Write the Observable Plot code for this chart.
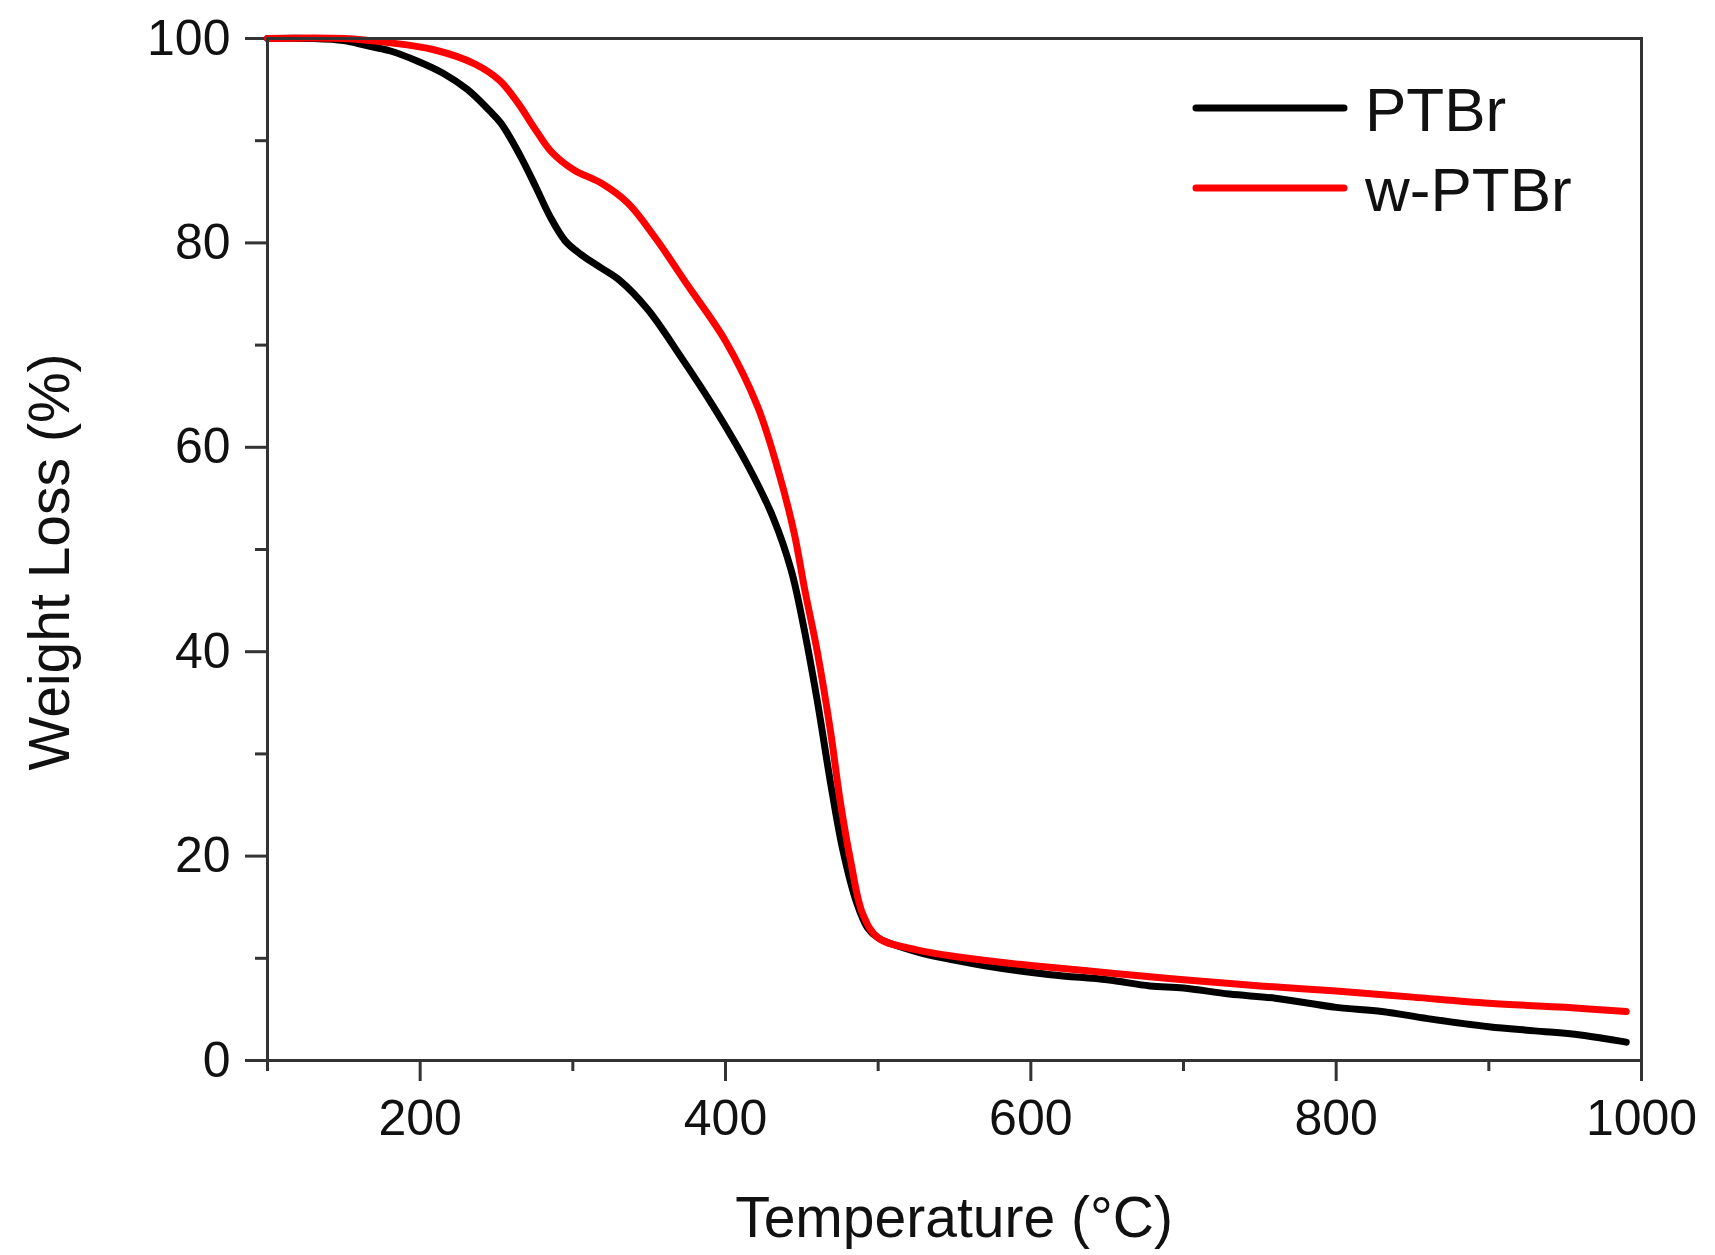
<!DOCTYPE html>
<html>
<head>
<meta charset="utf-8">
<script src="https://cdn.jsdelivr.net/npm/d3@7"></script>
<script src="https://cdn.jsdelivr.net/npm/@observablehq/plot@0.6"></script>
<style>
  html, body { margin: 0; padding: 0; background: #fff; }
  #chart svg { display: block; }
</style>
</head>
<body>
<div id="chart"></div>
<script>
// Temperature (°C) and weight (%)
const ptbrT = [100, 130, 150, 165, 180, 198, 215, 231, 245, 253, 266, 276, 285, 295, 305, 318, 331, 349, 371, 392, 414, 431, 443, 451, 460, 469, 477, 486, 493, 500, 526, 569, 613, 650, 678, 700, 730, 760, 800, 830, 860, 900, 930, 960, 990];
const ptbrW = [100, 100, 99.8, 99.3, 98.8, 97.8, 96.6, 95.0, 93.0, 91.7, 88.4, 85.4, 82.6, 80.2, 78.9, 77.6, 76.3, 73.5, 68.8, 64.0, 58.4, 53.2, 48.0, 42.6, 35.3, 27.0, 20.5, 15.4, 13.0, 12.0, 10.6, 9.3, 8.4, 7.9, 7.3, 7.1, 6.5, 6.1, 5.2, 4.8, 4.1, 3.3, 2.9, 2.5, 1.8];

const wptbrT = [100, 150, 179, 209, 236, 252, 264, 275, 286, 301, 318, 336, 354, 375, 400, 421, 434, 445, 452, 460, 469, 475, 482, 490, 500, 526, 569, 600, 635, 678, 700, 750, 800, 850, 900, 950, 990];
const wptbrW = [100, 100, 99.6, 98.9, 97.5, 95.9, 93.7, 91.2, 88.9, 87.1, 85.9, 83.9, 80.5, 75.9, 70.4, 64.0, 58.0, 51.6, 46.0, 40.1, 32.0, 25.5, 19.5, 14.3, 12.0, 10.8, 9.8, 9.3, 8.8, 8.2, 7.9, 7.3, 6.8, 6.2, 5.6, 5.2, 4.8];

const seriesNames = ["PTBr", "w-PTBr"];
const seriesColors = ["#000000", "#ff0000"];

const xMajorTicks = [200, 400, 600, 800, 1000];
const xMinorTicks = [100, 300, 500, 700, 900];
const yMajorTicks = [0, 20, 40, 60, 80, 100];
const yMinorTicks = [10, 30, 50, 70, 90];

const xLabel = "Temperature (°C)";
const yLabel = "Weight Loss (%)";

const ptbr = ptbrT.map((t, i) => ({T: t, W: ptbrW[i]}));
const wptbr = wptbrT.map((t, i) => ({T: t, W: wptbrW[i]}));

const W = 1715, H = 1255;
const mL = 267, mR = 74, mT = 38, mB = 195;
const axisColor = "#333";
const font = "'Liberation Sans', Arial, Helvetica, sans-serif";

const plot = Plot.plot({
  width: W,
  height: H,
  marginLeft: mL,
  marginRight: mR,
  marginTop: mT,
  marginBottom: mB,
  style: {fontFamily: font, color: "#111", background: "#fff"},
  x: {domain: [100, 1000]},
  y: {domain: [0, 100]},
  marks: [
    Plot.axisY({ticks: yMinorTicks, tickSize: 12, tickFormat: () => "", label: null, stroke: axisColor, strokeWidth: 3}),
    Plot.axisY({ticks: yMajorTicks, tickSize: 22, tickPadding: 15, fontSize: 50, tickFormat: d3.format("d"), label: null, stroke: axisColor, strokeWidth: 3, fill: "#111"}),
    Plot.axisX({ticks: xMinorTicks, tickSize: 11, tickFormat: () => "", label: null, stroke: axisColor, strokeWidth: 3}),
    Plot.axisX({ticks: xMajorTicks, tickSize: 21, tickPadding: 18, fontSize: 50, tickFormat: d3.format("d"), label: null, stroke: axisColor, strokeWidth: 3, fill: "#111"}),
    Plot.line(ptbr, {x: "T", y: "W", stroke: seriesColors[0], strokeWidth: 7, curve: "catmull-rom"}),
    Plot.line(wptbr, {x: "T", y: "W", stroke: seriesColors[1], strokeWidth: 7, curve: "catmull-rom"}),
    Plot.frame({stroke: axisColor, strokeWidth: 3})
  ]
});

const svg = d3.select(plot);

// axis titles
svg.append("text")
  .attr("x", (mL + (W - mR)) / 2)
  .attr("y", 1237)
  .attr("text-anchor", "middle")
  .style("font-family", font)
  .style("font-size", "57px")
  .attr("fill", "#111")
  .text(xLabel);

svg.append("text")
  .attr("transform", "translate(69,562) rotate(-90)")
  .attr("text-anchor", "middle")
  .style("font-family", font)
  .style("font-size", "57px")
  .attr("fill", "#111")
  .text(yLabel);

// legend
const legend = svg.append("g");
const legY = [108, 188];
seriesNames.forEach((name, i) => {
  legend.append("line")
    .attr("x1", 1196).attr("x2", 1344)
    .attr("y1", legY[i]).attr("y2", legY[i])
    .attr("stroke", seriesColors[i])
    .attr("stroke-width", 7)
    .attr("stroke-linecap", "round");
  legend.append("text")
    .attr("x", 1365)
    .attr("y", legY[i] + 23)
    .attr("text-anchor", "start")
    .style("font-family", font)
    .style("font-size", "62px")
    .attr("fill", "#111")
    .text(name);
});

document.getElementById("chart").appendChild(plot);
</script>
</body>
</html>
